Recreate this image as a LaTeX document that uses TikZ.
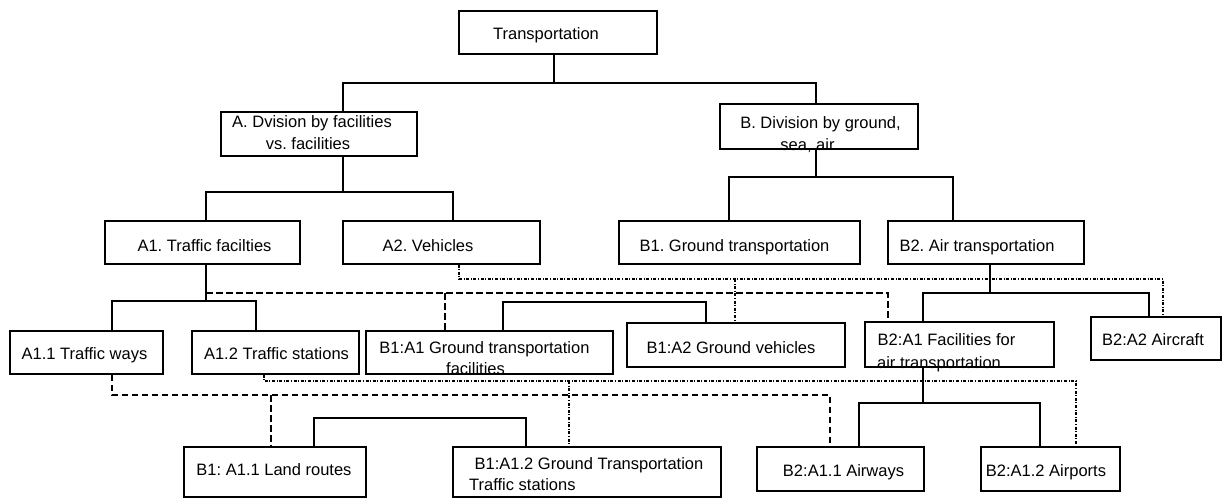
\documentclass[tikz,border=0pt]{standalone}
\usepackage{fontspec}
\setmainfont{Liberation Sans}
\frenchspacing
\begin{document}
\begin{tikzpicture}[x=1pt,y=-1pt,
  box/.style={draw, line width=1.2pt, inner sep=0pt, rectangle},
  lbl/.style={inner sep=0pt, anchor=base, font=\fontsize{16.5}{20}\selectfont\frenchspacing},
  conn/.style={line width=1.2pt},
  dsh/.style={line width=1.2pt, dash pattern=on 6.5pt off 3.5pt},
  ddt/.style={line width=1.1pt, dash pattern=on 3pt off 1.6pt on 1pt off 1.6pt}]
\fill[white] (0,0) rectangle (1222,498);
\useasboundingbox (0,0) rectangle (1222,498);

% boxes
\node[box, minimum width=198pt, minimum height=43pt] (T) at (558,32.5) {};
\node[box, minimum width=196pt, minimum height=44pt] (A) at (319,134) {};
\node[box, minimum width=198pt, minimum height=45pt] (B) at (819,126.5) {};
\node[box, minimum width=195pt, minimum height=43pt] (A1) at (202.5,242.5) {};
\node[box, minimum width=197pt, minimum height=43pt] (A2) at (441.5,242.5) {};
\node[box, minimum width=241pt, minimum height=43pt] (B1) at (739.5,242.5) {};
\node[box, minimum width=196pt, minimum height=43pt] (B2) at (986,242.5) {};
\node[box, minimum width=153pt, minimum height=43pt] (A11) at (86.5,352.5) {};
\node[box, minimum width=167pt, minimum height=43pt] (A12) at (275.5,352.5) {};
\node[box, minimum width=247pt, minimum height=43pt] (B1A1) at (489.5,352.5) {};
\node[box, minimum width=218pt, minimum height=44pt] (B1A2) at (736,345) {};
\node[box, minimum width=189pt, minimum height=45pt] (B2A1) at (959.5,344.5) {};
\node[box, minimum width=130pt, minimum height=43pt] (B2A2) at (1156,338.5) {};
\node[box, minimum width=182pt, minimum height=50pt] (B1A11) at (275,472) {};
\node[box, minimum width=268pt, minimum height=50pt] (B1A12) at (587,472) {};
\node[box, minimum width=167pt, minimum height=44pt] (B2A11) at (840.5,469) {};
\node[box, minimum width=139pt, minimum height=44pt] (B2A12) at (1050.5,469) {};

% labels
\node[lbl] (T-t) at (546,39) {Transportation};
\node[lbl] (A-t1) at (312,127) {A. Dvision by facilities};
\node[lbl] (A-t2) at (308,149) {vs. facilities};
\node[lbl] (B-t1) at (820.5,128) {B. Division by ground,};
\node[lbl] (B-t2) at (807.5,150) {sea, air};
\node[lbl] (A1-t) at (204.5,251) {A1. Traffic facilties};
\node[lbl] (A2-t) at (428,251) {A2. Vehicles};
\node[lbl] (B1-t) at (734.5,251) {B1. Ground transportation};
\node[lbl] (B2-t) at (977,251) {B2. Air transportation};
\node[lbl] (A11-t) at (84.5,359) {A1.1 Traffic ways};
\node[lbl] (A12-t) at (276.5,359) {A1.2 Traffic stations};
\node[lbl] (B1A1-t1) at (484.5,353) {B1:A1 Ground transportation};
\node[lbl] (B1A1-t2) at (475.5,374) {facilities};
\node[lbl] (B1A2-t) at (731,353) {B1:A2 Ground vehicles};
\node[lbl] (B2A1-t1) at (946.5,345) {B2:A1 Facilities for};
\node[lbl] (B2A1-t2) at (939,368) {air transportation};
\node[lbl] (B2A2-t) at (1153,345) {B2:A2 Aircraft};
\node[lbl] (B1A11-t) at (274,475) {B1: A1.1 Land routes};
\node[lbl] (B1A12-t1) at (589,469) {B1:A1.2 Ground Transportation};
\node[lbl, anchor=base west] (B1A12-t2) at (469,490) {Traffic stations};
\node[lbl] (B2A11-t) at (843.5,476) {B2:A1.1 Airways};
\node[lbl] (B2A12-t) at (1046,476) {B2:A1.2 Airports};

% junction coordinates
\coordinate (cT) at (554,83);
\coordinate (cA) at (343,192);
\coordinate (xA2) at (453,0);
\coordinate (cB) at (816,177);
\coordinate (xB1) at (729,0);
\coordinate (xB2) at (953,0);
\coordinate (cA1) at (206,301);
\coordinate (xA11) at (112,0);
\coordinate (xA12) at (256,0);
\coordinate (cBB) at (503,302);
\coordinate (xBB) at (706,0);
\coordinate (cB2) at (990,293);
\coordinate (cB2A1) at (923,403);
\coordinate (xB2A2) at (1149,0);
\coordinate (xB2A11) at (859,0);
\coordinate (xB2A12) at (1040,0);
\coordinate (cLow) at (420,418);
\coordinate (xL1) at (314,0);
\coordinate (xL2) at (526,0);

% solid tree
\draw[conn] (T.south -| cT) -- (cT);
\draw[conn] (A.north -| cA) |- (cT) -| (B.north -| cB);
\draw[conn] (A.south -| cA) -- (cA);
\draw[conn] (A1.north -| cA1) |- (cA) -| (A2.north -| xA2);
\draw[conn] (B.south -| cB) -- (cB);
\draw[conn] (B1.north -| xB1) |- (cB) -| (B2.north -| xB2);
\draw[conn] (A1.south -| cA1) -- (cA1);
\draw[conn] (A11.north -| xA11) |- (cA1) -| (A12.north -| xA12);
\draw[conn] (B1A1.north -| cBB) -- (cBB) -| (B1A2.north -| xBB);
\draw[conn] (B2.south -| cB2) -- (cB2);
\draw[conn] (B2A1.north -| cB2A1) |- (cB2) -| (B2A2.north -| xB2A2);
\draw[conn] (B2A1.south -| cB2A1) -- (cB2A1);
\draw[conn] (B2A11.north -| xB2A11) |- (cB2A1) -| (B2A12.north -| xB2A12);
\draw[conn] (B1A11.north -| xL1) |- (cLow) -| (B1A12.north -| xL2);

% dashed links
\coordinate (dS) at (206,293);
\coordinate (dA) at (445,293);
\coordinate (dB) at (888,293);
\draw[dsh] (dS) -- (dB) -- (B2A1.north -| dB);
\draw[dsh] (dA) -- (B1A1.north -| dA);
\coordinate (e0) at (112,395);
\coordinate (e1) at (271,395);
\coordinate (e2) at (830,395);
\draw[dsh] (A11.south -| e0) -- (e0) -- (e2) -- (B2A11.north -| e2);
\draw[dsh] (e1) -- (B1A11.north -| e1);

% dash-dot links
\coordinate (f0) at (459,279);
\coordinate (f1) at (735,279);
\coordinate (f2) at (1163,279);
\draw[ddt] (A2.south -| f0) -- (f0) -- (f2) -- (B2A2.north -| f2);
\draw[ddt] (f1) -- (B1A2.north -| f1);
\coordinate (g0) at (264,381);
\coordinate (g1) at (569,381);
\coordinate (g2) at (1076,381);
\draw[ddt] (A12.south -| g0) -- (g0) -- (g2) -- (B2A12.north -| g2);
\draw[ddt] (g1) -- (B1A12.north -| g1);
\end{tikzpicture}
\end{document}
